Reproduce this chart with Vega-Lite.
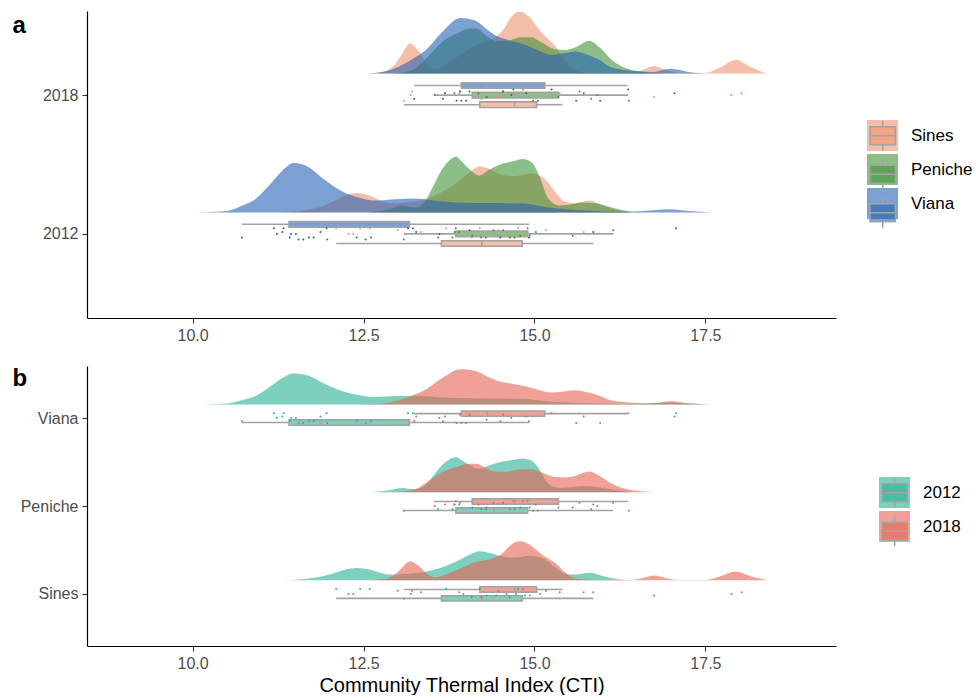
{
"$schema":"https://vega.github.io/schema/vega-lite/v6.json",
"background":"white",
"padding":{"left":12,"top":11,"right":0,"bottom":0},
"config":{"view":{"stroke":null},"axis":{"grid":false,"domainColor":"black","domainWidth":1.2,"tickColor":"#333333","tickWidth":1.1,"tickSize":5,"labelColor":"#4D4D4D","labelFont":"Liberation Sans","labelFontSize":16,"titleFont":"Liberation Sans"},"legend":{"labelFont":"Liberation Sans"}},
"datasets":{
"dens":[
{"site":"Sines","year":"2012","x":11.3,"d":0},{"site":"Sines","year":"2012","x":11.6,"d":0.012},{"site":"Sines","year":"2012","x":11.9,"d":0.045},{"site":"Sines","year":"2012","x":12.1,"d":0.09},{"site":"Sines","year":"2012","x":12.25,"d":0.125},{"site":"Sines","year":"2012","x":12.4,"d":0.14},{"site":"Sines","year":"2012","x":12.6,"d":0.12},{"site":"Sines","year":"2012","x":12.8,"d":0.075},{"site":"Sines","year":"2012","x":12.95,"d":0.065},{"site":"Sines","year":"2012","x":13.15,"d":0.075},{"site":"Sines","year":"2012","x":13.35,"d":0.09},{"site":"Sines","year":"2012","x":13.6,"d":0.135},{"site":"Sines","year":"2012","x":13.85,"d":0.21},{"site":"Sines","year":"2012","x":14.05,"d":0.29},{"site":"Sines","year":"2012","x":14.2,"d":0.33},{"site":"Sines","year":"2012","x":14.35,"d":0.31},{"site":"Sines","year":"2012","x":14.5,"d":0.275},{"site":"Sines","year":"2012","x":14.7,"d":0.26},{"site":"Sines","year":"2012","x":14.95,"d":0.28},{"site":"Sines","year":"2012","x":15.15,"d":0.24},{"site":"Sines","year":"2012","x":15.3,"d":0.15},{"site":"Sines","year":"2012","x":15.45,"d":0.075},{"site":"Sines","year":"2012","x":15.6,"d":0.065},{"site":"Sines","year":"2012","x":15.8,"d":0.085},{"site":"Sines","year":"2012","x":16.0,"d":0.05},{"site":"Sines","year":"2012","x":16.2,"d":0.015},{"site":"Sines","year":"2012","x":16.4,"d":0},
{"site":"Peniche","year":"2012","x":12.6,"d":0},{"site":"Peniche","year":"2012","x":12.87,"d":0.023},{"site":"Peniche","year":"2012","x":13.06,"d":0.05},{"site":"Peniche","year":"2012","x":13.26,"d":0.035},{"site":"Peniche","year":"2012","x":13.4,"d":0.08},{"site":"Peniche","year":"2012","x":13.5,"d":0.17},{"site":"Peniche","year":"2012","x":13.65,"d":0.31},{"site":"Peniche","year":"2012","x":13.78,"d":0.385},{"site":"Peniche","year":"2012","x":13.85,"d":0.4},{"site":"Peniche","year":"2012","x":13.95,"d":0.36},{"site":"Peniche","year":"2012","x":14.05,"d":0.31},{"site":"Peniche","year":"2012","x":14.19,"d":0.265},{"site":"Peniche","year":"2012","x":14.33,"d":0.305},{"site":"Peniche","year":"2012","x":14.53,"d":0.35},{"site":"Peniche","year":"2012","x":14.7,"d":0.37},{"site":"Peniche","year":"2012","x":14.82,"d":0.385},{"site":"Peniche","year":"2012","x":14.96,"d":0.36},{"site":"Peniche","year":"2012","x":15.07,"d":0.264},{"site":"Peniche","year":"2012","x":15.2,"d":0.1},{"site":"Peniche","year":"2012","x":15.36,"d":0.05},{"site":"Peniche","year":"2012","x":15.5,"d":0.055},{"site":"Peniche","year":"2012","x":15.7,"d":0.072},{"site":"Peniche","year":"2012","x":15.9,"d":0.065},{"site":"Peniche","year":"2012","x":16.04,"d":0.048},{"site":"Peniche","year":"2012","x":16.25,"d":0.02},{"site":"Peniche","year":"2012","x":16.45,"d":0},
{"site":"Viana","year":"2012","x":10.05,"d":0},{"site":"Viana","year":"2012","x":10.25,"d":0.003},{"site":"Viana","year":"2012","x":10.5,"d":0.01},{"site":"Viana","year":"2012","x":10.72,"d":0.048},{"site":"Viana","year":"2012","x":10.92,"d":0.096},{"site":"Viana","year":"2012","x":11.11,"d":0.19},{"site":"Viana","year":"2012","x":11.31,"d":0.3},{"site":"Viana","year":"2012","x":11.48,"d":0.355},{"site":"Viana","year":"2012","x":11.7,"d":0.325},{"site":"Viana","year":"2012","x":11.89,"d":0.25},{"site":"Viana","year":"2012","x":12.09,"d":0.18},{"site":"Viana","year":"2012","x":12.28,"d":0.13},{"site":"Viana","year":"2012","x":12.48,"d":0.1},{"site":"Viana","year":"2012","x":12.67,"d":0.085},{"site":"Viana","year":"2012","x":12.97,"d":0.095},{"site":"Viana","year":"2012","x":13.26,"d":0.1},{"site":"Viana","year":"2012","x":13.46,"d":0.09},{"site":"Viana","year":"2012","x":13.85,"d":0.072},{"site":"Viana","year":"2012","x":14.33,"d":0.067},{"site":"Viana","year":"2012","x":14.82,"d":0.065},{"site":"Viana","year":"2012","x":15.11,"d":0.043},{"site":"Viana","year":"2012","x":15.41,"d":0.024},{"site":"Viana","year":"2012","x":15.8,"d":0.012},{"site":"Viana","year":"2012","x":16.29,"d":0.005},{"site":"Viana","year":"2012","x":16.58,"d":0.01},{"site":"Viana","year":"2012","x":16.97,"d":0.022},{"site":"Viana","year":"2012","x":17.26,"d":0.01},{"site":"Viana","year":"2012","x":17.6,"d":0},
{"site":"Sines","year":"2018","x":12.55,"d":0},{"site":"Sines","year":"2018","x":12.8,"d":0.015},{"site":"Sines","year":"2018","x":12.95,"d":0.06},{"site":"Sines","year":"2018","x":13.06,"d":0.14},{"site":"Sines","year":"2018","x":13.18,"d":0.217},{"site":"Sines","year":"2018","x":13.31,"d":0.16},{"site":"Sines","year":"2018","x":13.45,"d":0.06},{"site":"Sines","year":"2018","x":13.55,"d":0.03},{"site":"Sines","year":"2018","x":13.7,"d":0.065},{"site":"Sines","year":"2018","x":13.9,"d":0.13},{"site":"Sines","year":"2018","x":14.15,"d":0.21},{"site":"Sines","year":"2018","x":14.4,"d":0.255},{"site":"Sines","year":"2018","x":14.55,"d":0.32},{"site":"Sines","year":"2018","x":14.65,"d":0.4},{"site":"Sines","year":"2018","x":14.78,"d":0.445},{"site":"Sines","year":"2018","x":14.92,"d":0.41},{"site":"Sines","year":"2018","x":15.05,"d":0.33},{"site":"Sines","year":"2018","x":15.15,"d":0.27},{"site":"Sines","year":"2018","x":15.3,"d":0.2},{"site":"Sines","year":"2018","x":15.45,"d":0.09},{"site":"Sines","year":"2018","x":15.6,"d":0.02},{"site":"Sines","year":"2018","x":15.9,"d":0.004},{"site":"Sines","year":"2018","x":16.4,"d":0.004},{"site":"Sines","year":"2018","x":16.6,"d":0.03},{"site":"Sines","year":"2018","x":16.75,"d":0.055},{"site":"Sines","year":"2018","x":16.9,"d":0.03},{"site":"Sines","year":"2018","x":17.1,"d":0.004},{"site":"Sines","year":"2018","x":17.5,"d":0.004},{"site":"Sines","year":"2018","x":17.7,"d":0.04},{"site":"Sines","year":"2018","x":17.95,"d":0.1},{"site":"Sines","year":"2018","x":18.15,"d":0.05},{"site":"Sines","year":"2018","x":18.4,"d":0},
{"site":"Peniche","year":"2018","x":12.9,"d":0},{"site":"Peniche","year":"2018","x":13.1,"d":0.01},{"site":"Peniche","year":"2018","x":13.26,"d":0.038},{"site":"Peniche","year":"2018","x":13.46,"d":0.133},{"site":"Peniche","year":"2018","x":13.65,"d":0.23},{"site":"Peniche","year":"2018","x":13.85,"d":0.286},{"site":"Peniche","year":"2018","x":14.05,"d":0.325},{"site":"Peniche","year":"2018","x":14.15,"d":0.325},{"site":"Peniche","year":"2018","x":14.3,"d":0.27},{"site":"Peniche","year":"2018","x":14.45,"d":0.235},{"site":"Peniche","year":"2018","x":14.6,"d":0.235},{"site":"Peniche","year":"2018","x":14.77,"d":0.26},{"site":"Peniche","year":"2018","x":14.95,"d":0.262},{"site":"Peniche","year":"2018","x":15.1,"d":0.225},{"site":"Peniche","year":"2018","x":15.3,"d":0.175},{"site":"Peniche","year":"2018","x":15.45,"d":0.17},{"site":"Peniche","year":"2018","x":15.6,"d":0.19},{"site":"Peniche","year":"2018","x":15.8,"d":0.237},{"site":"Peniche","year":"2018","x":15.95,"d":0.19},{"site":"Peniche","year":"2018","x":16.14,"d":0.095},{"site":"Peniche","year":"2018","x":16.34,"d":0.038},{"site":"Peniche","year":"2018","x":16.6,"d":0.011},{"site":"Peniche","year":"2018","x":16.9,"d":0},
{"site":"Viana","year":"2018","x":12.4,"d":0},{"site":"Viana","year":"2018","x":12.68,"d":0.005},{"site":"Viana","year":"2018","x":12.97,"d":0.04},{"site":"Viana","year":"2018","x":13.2,"d":0.1},{"site":"Viana","year":"2018","x":13.41,"d":0.17},{"site":"Viana","year":"2018","x":13.65,"d":0.3},{"site":"Viana","year":"2018","x":13.92,"d":0.4},{"site":"Viana","year":"2018","x":14.14,"d":0.38},{"site":"Viana","year":"2018","x":14.3,"d":0.32},{"site":"Viana","year":"2018","x":14.45,"d":0.27},{"site":"Viana","year":"2018","x":14.63,"d":0.24},{"site":"Viana","year":"2018","x":14.83,"d":0.213},{"site":"Viana","year":"2018","x":15.04,"d":0.17},{"site":"Viana","year":"2018","x":15.25,"d":0.135},{"site":"Viana","year":"2018","x":15.46,"d":0.15},{"site":"Viana","year":"2018","x":15.6,"d":0.16},{"site":"Viana","year":"2018","x":15.75,"d":0.14},{"site":"Viana","year":"2018","x":15.95,"d":0.1},{"site":"Viana","year":"2018","x":16.1,"d":0.05},{"site":"Viana","year":"2018","x":16.41,"d":0.02},{"site":"Viana","year":"2018","x":16.72,"d":0.012},{"site":"Viana","year":"2018","x":17.0,"d":0.035},{"site":"Viana","year":"2018","x":17.25,"d":0.012},{"site":"Viana","year":"2018","x":17.5,"d":0}
],
"box":[
{"site":"Sines","year":"2012","lo":12.1,"q1":13.64,"med":14.23,"q3":14.82,"hi":15.86},
{"site":"Peniche","year":"2012","lo":13.09,"q1":13.85,"med":14.41,"q3":14.9,"hi":16.15},
{"site":"Viana","year":"2012","lo":10.72,"q1":11.41,"med":11.88,"q3":13.17,"hi":14.92},
{"site":"Sines","year":"2018","lo":13.09,"q1":14.2,"med":14.71,"q3":15.03,"hi":15.41},
{"site":"Peniche","year":"2018","lo":13.53,"q1":14.09,"med":14.72,"q3":15.35,"hi":16.37},
{"site":"Viana","year":"2018","lo":13.24,"q1":13.93,"med":14.31,"q3":15.15,"hi":16.36}
],
"pts":[
{"site":"Viana","year":"2012","v":10.72},{"site":"Viana","year":"2012","v":11.19},{"site":"Viana","year":"2012","v":11.23},{"site":"Viana","year":"2012","v":11.31},{"site":"Viana","year":"2012","v":11.33},{"site":"Viana","year":"2012","v":11.42},{"site":"Viana","year":"2012","v":11.44},{"site":"Viana","year":"2012","v":11.51},{"site":"Viana","year":"2012","v":11.55},{"site":"Viana","year":"2012","v":11.62},{"site":"Viana","year":"2012","v":11.7},{"site":"Viana","year":"2012","v":11.77},{"site":"Viana","year":"2012","v":11.87},{"site":"Viana","year":"2012","v":11.96},{"site":"Viana","year":"2012","v":11.97},{"site":"Viana","year":"2012","v":12.4},{"site":"Viana","year":"2012","v":12.53},{"site":"Viana","year":"2012","v":12.61},{"site":"Viana","year":"2012","v":13.15},{"site":"Viana","year":"2012","v":13.22},{"site":"Viana","year":"2012","v":13.27},{"site":"Viana","year":"2012","v":13.61},{"site":"Viana","year":"2012","v":14.05},{"site":"Viana","year":"2012","v":14.5},{"site":"Viana","year":"2012","v":14.92},{"site":"Viana","year":"2012","v":17.07},
{"site":"Sines","year":"2012","v":12.1},{"site":"Sines","year":"2012","v":12.28},{"site":"Sines","year":"2012","v":12.35},{"site":"Sines","year":"2012","v":12.45},{"site":"Sines","year":"2012","v":12.59},{"site":"Sines","year":"2012","v":13.0},{"site":"Sines","year":"2012","v":13.34},{"site":"Sines","year":"2012","v":13.71},{"site":"Sines","year":"2012","v":13.96},{"site":"Sines","year":"2012","v":14.08},{"site":"Sines","year":"2012","v":14.2},{"site":"Sines","year":"2012","v":14.3},{"site":"Sines","year":"2012","v":14.47},{"site":"Sines","year":"2012","v":14.64},{"site":"Sines","year":"2012","v":14.76},{"site":"Sines","year":"2012","v":14.86},{"site":"Sines","year":"2012","v":15.17},{"site":"Sines","year":"2012","v":15.72},{"site":"Sines","year":"2012","v":15.86},
{"site":"Peniche","year":"2012","v":13.09},{"site":"Peniche","year":"2012","v":13.59},{"site":"Peniche","year":"2012","v":13.8},{"site":"Peniche","year":"2012","v":13.83},{"site":"Peniche","year":"2012","v":13.85},{"site":"Peniche","year":"2012","v":13.9},{"site":"Peniche","year":"2012","v":14.09},{"site":"Peniche","year":"2012","v":14.22},{"site":"Peniche","year":"2012","v":14.29},{"site":"Peniche","year":"2012","v":14.4},{"site":"Peniche","year":"2012","v":14.54},{"site":"Peniche","year":"2012","v":14.64},{"site":"Peniche","year":"2012","v":14.71},{"site":"Peniche","year":"2012","v":14.79},{"site":"Peniche","year":"2012","v":14.9},{"site":"Peniche","year":"2012","v":14.93},{"site":"Peniche","year":"2012","v":15.02},{"site":"Peniche","year":"2012","v":15.56},{"site":"Peniche","year":"2012","v":15.86},{"site":"Peniche","year":"2012","v":16.15},
{"site":"Viana","year":"2018","v":13.24},{"site":"Viana","year":"2018","v":13.66},{"site":"Viana","year":"2018","v":13.69},{"site":"Viana","year":"2018","v":13.86},{"site":"Viana","year":"2018","v":13.91},{"site":"Viana","year":"2018","v":13.93},{"site":"Viana","year":"2018","v":14.0},{"site":"Viana","year":"2018","v":14.05},{"site":"Viana","year":"2018","v":14.3},{"site":"Viana","year":"2018","v":14.54},{"site":"Viana","year":"2018","v":14.66},{"site":"Viana","year":"2018","v":14.88},{"site":"Viana","year":"2018","v":15.25},{"site":"Viana","year":"2018","v":15.61},{"site":"Viana","year":"2018","v":15.72},{"site":"Viana","year":"2018","v":15.96},{"site":"Viana","year":"2018","v":16.37},{"site":"Viana","year":"2018","v":17.05},
{"site":"Peniche","year":"2018","v":13.54},{"site":"Peniche","year":"2018","v":13.69},{"site":"Peniche","year":"2018","v":13.83},{"site":"Peniche","year":"2018","v":13.91},{"site":"Peniche","year":"2018","v":14.18},{"site":"Peniche","year":"2018","v":14.3},{"site":"Peniche","year":"2018","v":14.54},{"site":"Peniche","year":"2018","v":14.69},{"site":"Peniche","year":"2018","v":14.83},{"site":"Peniche","year":"2018","v":14.98},{"site":"Peniche","year":"2018","v":15.05},{"site":"Peniche","year":"2018","v":15.35},{"site":"Peniche","year":"2018","v":15.66},{"site":"Peniche","year":"2018","v":15.83},{"site":"Peniche","year":"2018","v":15.92},{"site":"Peniche","year":"2018","v":16.38},
{"site":"Sines","year":"2018","v":13.09},{"site":"Sines","year":"2018","v":13.19},{"site":"Sines","year":"2018","v":13.21},{"site":"Sines","year":"2018","v":13.9},{"site":"Sines","year":"2018","v":14.22},{"site":"Sines","year":"2018","v":14.44},{"site":"Sines","year":"2018","v":14.59},{"site":"Sines","year":"2018","v":14.73},{"site":"Sines","year":"2018","v":14.83},{"site":"Sines","year":"2018","v":14.93},{"site":"Sines","year":"2018","v":15.08},{"site":"Sines","year":"2018","v":15.37},{"site":"Sines","year":"2018","v":16.75},{"site":"Sines","year":"2018","v":17.88},{"site":"Sines","year":"2018","v":18.03}
]
},
"spacing":23,
"resolve":{"scale":{"color":"independent","fill":"independent","y":"independent"},"legend":{"color":"independent","fill":"independent"}},
"vconcat":[
{
"width":749,"height":307,
"layer":[
{"data":{"name":"dens"},
 "transform":[{"calculate":"datum.year=='2018'?2:1","as":"base"},{"calculate":"datum.base+0.155","as":"yb"},{"calculate":"datum.yb+datum.d","as":"yt"}],
 "mark":{"type":"area","fillOpacity":0.6,"strokeWidth":0,"interpolate":"monotone"},
 "encoding":{
  "x":{"field":"x","type":"quantitative","scale":{"domain":[8.455,19.41],"nice":false,"zero":false},"axis":{"values":[10,12.5,15,17.5],"format":".1f","title":null,"labelPadding":4}},
  "y":{"field":"yt","type":"quantitative","stack":null,"scale":{"domain":[0.394,2.606],"nice":false,"zero":false},"axis":{"values":[1,2],"labelExpr":"datum.value==2?'2018':'2012'","labelPadding":4,"title":"a","titleAngle":0,"titleX":-75,"titleY":21,"titleAlign":"left","titleBaseline":"alphabetic","titleFontSize":24,"titleFontWeight":"bold","titleColor":"black"}},
  "y2":{"field":"yb"},
  "fill":{"field":"site","type":"nominal","scale":{"domain":["Sines","Peniche","Viana"],"range":["#EE9371","#3F9337","#2661B4"]},"legend":{"orient":"none","legendX":780,"legendY":109,"title":null,"symbolType":"square","symbolSize":961,"symbolOpacity":0.6,"symbolStrokeWidth":0,"labelFontSize":17,"labelColor":"black","labelOffset":13,"rowPadding":3,"padding":0,"zindex":0}},
  "detail":{"field":"year"}
 }},
{"data":{"name":"box"},
 "transform":[{"calculate":"(datum.year=='2018'?2:1)+(datum.site=='Viana'?0.069:(datum.site=='Sines'?-0.069:0))","as":"by"}],
 "mark":{"type":"rule","color":"#A3A3A3","strokeWidth":1.6},
 "encoding":{"x":{"field":"lo","type":"quantitative"},"x2":{"field":"q1"},"y":{"field":"by","type":"quantitative"}}},
{"data":{"name":"box"},
 "transform":[{"calculate":"(datum.year=='2018'?2:1)+(datum.site=='Viana'?0.069:(datum.site=='Sines'?-0.069:0))","as":"by"}],
 "mark":{"type":"rule","color":"#A3A3A3","strokeWidth":1.6},
 "encoding":{"x":{"field":"q3","type":"quantitative"},"x2":{"field":"hi"},"y":{"field":"by","type":"quantitative"}}},
{"data":{"name":"box"},
 "transform":[{"calculate":"(datum.year=='2018'?2:1)+(datum.site=='Viana'?0.069:(datum.site=='Sines'?-0.069:0))","as":"by"},{"calculate":"datum.by-0.02","as":"b1"},{"calculate":"datum.by+0.02","as":"b2"}],
 "mark":{"type":"rect","fillOpacity":0.6,"stroke":"#A3A3A3","strokeWidth":1.6},
 "encoding":{"x":{"field":"q1","type":"quantitative"},"x2":{"field":"q3"},"y":{"field":"b1","type":"quantitative"},"y2":{"field":"b2"},
  "color":{"field":"site","type":"nominal","sort":["Sines","Peniche","Viana"],"scale":{"range":["#EE9371","#3F9337","#2661B4"]},"legend":{"orient":"none","legendX":779.25,"legendY":108.25,"title":null,"symbolType":"M-0.82,-0.58H0.82V0.58H-0.82Z M-0.82,0H0.82 M0,-0.97V-0.58 M0,0.58V0.97","symbolSize":961,"symbolStrokeColor":"#A3A3A3","symbolStrokeWidth":1.5,"labelFontSize":17,"labelExpr":"''","labelOffset":13,"rowPadding":1.5,"padding":0,"zindex":1,"encode":{"symbols":{"update":{"fillOpacity":{"value":0.6},"strokeOpacity":{"value":1},"stroke":{"value":"#A3A3A3"},"strokeWidth":{"value":1.5}}}}}}}},
{"data":{"name":"box"},
 "transform":[{"calculate":"(datum.year=='2018'?2:1)+(datum.site=='Viana'?0.069:(datum.site=='Sines'?-0.069:0))","as":"by"},{"calculate":"datum.by-0.02","as":"b1"},{"calculate":"datum.by+0.02","as":"b2"}],
 "mark":{"type":"rule","color":"#A3A3A3","strokeWidth":1.6},
 "encoding":{"x":{"field":"med","type":"quantitative"},"y":{"field":"b1","type":"quantitative"},"y2":{"field":"b2"}}},
{"data":{"name":"pts"},
 "transform":[{"calculate":"(datum.year=='2018'?2:1)+((round(datum.v*100)%7)/6-0.5)*0.08","as":"py"}],
 "mark":{"type":"circle","size":4,"opacity":1},
 "encoding":{"x":{"field":"v","type":"quantitative"},"y":{"field":"py","type":"quantitative"},
  "color":{"field":"site","type":"nominal","sort":["Sines","Peniche","Viana"]}}}
]
},
{
"width":749,"height":280,
"layer":[
{"data":{"name":"dens"},
 "transform":[{"calculate":"datum.site=='Viana'?3:(datum.site=='Peniche'?2:1)","as":"base"},{"calculate":"datum.base+0.155","as":"yb"},{"calculate":"datum.yb+datum.d","as":"yt"}],
 "mark":{"type":"area","fillOpacity":0.6,"strokeWidth":0,"interpolate":"monotone"},
 "encoding":{
  "x":{"field":"x","type":"quantitative","scale":{"domain":[8.455,19.41],"nice":false,"zero":false},"axis":{"values":[10,12.5,15,17.5],"format":".1f","title":"Community Thermal Index (CTI)","labelPadding":4,"titleFontSize":20,"titleFontWeight":"normal","titleColor":"black","titlePadding":4}},
  "y":{"field":"yt","type":"quantitative","stack":null,"scale":{"domain":[0.408,3.592],"nice":false,"zero":false},"axis":{"values":[1,2,3],"labelExpr":"datum.value==3?'Viana':(datum.value==2?'Peniche':'Sines')","labelPadding":4,"title":"b","titleAngle":0,"titleX":-75,"titleY":19,"titleAlign":"left","titleBaseline":"alphabetic","titleFontSize":24,"titleFontWeight":"bold","titleColor":"black"}},
  "y2":{"field":"yb"},
  "fill":{"field":"year","type":"nominal","scale":{"domain":["2012","2018"],"range":["#26B193","#E66150"]},"legend":{"orient":"none","legendX":792,"legendY":111,"title":null,"symbolType":"square","symbolSize":961,"symbolOpacity":0.6,"symbolStrokeWidth":0,"labelFontSize":17,"labelColor":"black","labelOffset":13,"rowPadding":3,"padding":0,"zindex":0}},
  "detail":{"field":"site"}
 }},
{"data":{"name":"box"},
 "transform":[{"calculate":"(datum.site=='Viana'?3:(datum.site=='Peniche'?2:1))+(datum.year=='2018'?0.051:-0.051)","as":"by"}],
 "mark":{"type":"rule","color":"#A3A3A3","strokeWidth":1.6},
 "encoding":{"x":{"field":"lo","type":"quantitative"},"x2":{"field":"q1"},"y":{"field":"by","type":"quantitative"}}},
{"data":{"name":"box"},
 "transform":[{"calculate":"(datum.site=='Viana'?3:(datum.site=='Peniche'?2:1))+(datum.year=='2018'?0.051:-0.051)","as":"by"}],
 "mark":{"type":"rule","color":"#A3A3A3","strokeWidth":1.6},
 "encoding":{"x":{"field":"q3","type":"quantitative"},"x2":{"field":"hi"},"y":{"field":"by","type":"quantitative"}}},
{"data":{"name":"box"},
 "transform":[{"calculate":"(datum.site=='Viana'?3:(datum.site=='Peniche'?2:1))+(datum.year=='2018'?0.051:-0.051)","as":"by"},{"calculate":"datum.by-0.03","as":"b1"},{"calculate":"datum.by+0.03","as":"b2"}],
 "mark":{"type":"rect","fillOpacity":0.6,"stroke":"#A3A3A3","strokeWidth":1.6},
 "encoding":{"x":{"field":"q1","type":"quantitative"},"x2":{"field":"q3"},"y":{"field":"b1","type":"quantitative"},"y2":{"field":"b2"},
  "color":{"field":"year","type":"nominal","sort":["2012","2018"],"scale":{"range":["#26B193","#E66150"]},"legend":{"orient":"none","legendX":791.25,"legendY":110.25,"title":null,"symbolType":"M-0.82,-0.58H0.82V0.58H-0.82Z M-0.82,0H0.82 M0,-0.97V-0.58 M0,0.58V0.97","symbolSize":961,"symbolStrokeColor":"#A3A3A3","symbolStrokeWidth":1.5,"labelFontSize":17,"labelExpr":"''","labelOffset":13,"rowPadding":1.5,"padding":0,"zindex":1,"encode":{"symbols":{"update":{"fillOpacity":{"value":0.6},"strokeOpacity":{"value":1},"stroke":{"value":"#A3A3A3"},"strokeWidth":{"value":1.5}}}}}}}},
{"data":{"name":"box"},
 "transform":[{"calculate":"(datum.site=='Viana'?3:(datum.site=='Peniche'?2:1))+(datum.year=='2018'?0.051:-0.051)","as":"by"},{"calculate":"datum.by-0.03","as":"b1"},{"calculate":"datum.by+0.03","as":"b2"}],
 "mark":{"type":"rule","color":"#A3A3A3","strokeWidth":1.6},
 "encoding":{"x":{"field":"med","type":"quantitative"},"y":{"field":"b1","type":"quantitative"},"y2":{"field":"b2"}}},
{"data":{"name":"pts"},
 "transform":[{"calculate":"(datum.site=='Viana'?3:(datum.site=='Peniche'?2:1))+((round(datum.v*100)%7)/6-0.5)*0.11","as":"py"}],
 "mark":{"type":"circle","size":4,"opacity":1},
 "encoding":{"x":{"field":"v","type":"quantitative"},"y":{"field":"py","type":"quantitative"},
  "color":{"field":"year","type":"nominal","sort":["2012","2018"]}}}
]
}
]
}
